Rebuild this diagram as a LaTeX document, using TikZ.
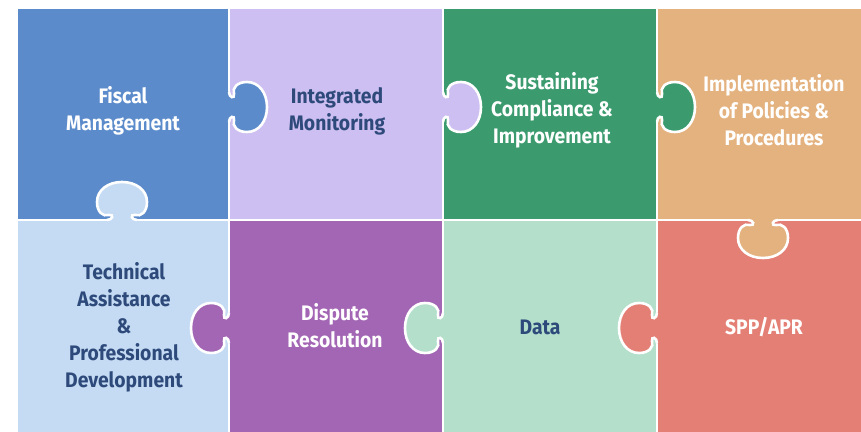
\documentclass[tikz,border=0pt]{standalone}
\usepackage{fontspec}
\usepackage{xcolor}
\newfontfamily\piecefont{Fira Sans}[FakeStretch=0.92]
\definecolor{fiscal}{HTML}{5B8BCB}
\definecolor{integ}{HTML}{CDBFF1}
\definecolor{sustain}{HTML}{3B9B6E}
\definecolor{implem}{HTML}{E4B27F}
\definecolor{techass}{HTML}{C5DBF3}
\definecolor{dispute}{HTML}{A366B4}
\definecolor{datacol}{HTML}{B3DFCB}
\definecolor{spp}{HTML}{E47F75}
\definecolor{navy}{HTML}{2E4A7B}
\tikzset{
  % piece outline
  seam/.style={
    draw=white, line width = 2.6pt
  },
  % piece label
  lbl/.style={
    align=center, font=\piecefont\bfseries\fontsize{21}{27}\selectfont
  },
}
% tab: base point, direction, colour of the piece it belongs to
\newcommand{\puzzletab}[4]{%
  \begin{scope}[shift={(#1,#2)},rotate=#3]
    \fill[#4] (-4,-15) -- (0,-15) .. controls (0,-9) and (6,-8) .. (5,-13)
      .. controls (3,-19) and (8,-25) .. (18,-25) .. controls (30,-25) and (38,-14) .. (38,0)
      .. controls (38,14) and (30,25) .. (18,25) .. controls (8,25) and (3,19) .. (5,13)
      .. controls (6,8) and (0,9) .. (0,15) -- (-4,15) -- cycle;
    \draw[seam] (0,-15) .. controls (0,-9) and (6,-8) .. (5,-13)
      .. controls (3,-19) and (8,-25) .. (18,-25) .. controls (30,-25) and (38,-14) .. (38,0)
      .. controls (38,14) and (30,25) .. (18,25) .. controls (8,25) and (3,19) .. (5,13)
      .. controls (6,8) and (0,9) .. (0,15);
  \end{scope}}

\begin{document}
\begin{tikzpicture}[x=1pt,y=1pt]
  \useasboundingbox (0,0) rectangle (861,431);
  % pieces, top row then bottom row
  \fill[fiscal,  seam] (17,211)  rectangle (229,423);
  \fill[integ,   seam] (229,211) rectangle (443,423);
  \fill[sustain, seam] (443,211) rectangle (657,423);
  \fill[implem,  seam] (657,211) rectangle (864,423);
  \fill[techass, seam] (17,-3)   rectangle (229,211);
  \fill[dispute, seam] (229,-3)  rectangle (443,211);
  \fill[datacol, seam] (443,-3)  rectangle (657,211);
  \fill[spp,     seam] (657,-3)  rectangle (864,211);

  % tabs
  \puzzletab{229}{324}{0}{fiscal}
  \puzzletab{122}{211}{90}{techass}
  \puzzletab{443}{324}{0}{integ}
  \puzzletab{657}{324}{0}{sustain}
  \puzzletab{763}{211}{-90}{implem}
  \puzzletab{229}{103}{180}{dispute}
  \puzzletab{443}{103}{180}{datacol}
  \puzzletab{657}{103}{180}{spp}

  % labels
  \node[lbl, text=white] (fm) at (123,320) {Fiscal\\Management};
  \node[lbl, text=navy]  (im) at (337,320) {Integrated\\Monitoring};
  \node[lbl, text=white] (sc) at (552,321) {Sustaining\\Compliance \&\\Improvement};
  \node[lbl, text=white] (ip) at (774,321) {Implementation\\of Policies \&\\Procedures};
  \node[lbl, text=navy]  (ta) at (124,104) {Technical\\Assistance\\\&\\Professional\\Development};
  \node[lbl, text=white] (dr) at (335,105) {Dispute\\Resolution};
  \node[lbl, text=navy]  (da) at (540,104) {Data};
  \node[lbl, text=white] (sa) at (764,104) {SPP/APR};
\end{tikzpicture}
\end{document}
